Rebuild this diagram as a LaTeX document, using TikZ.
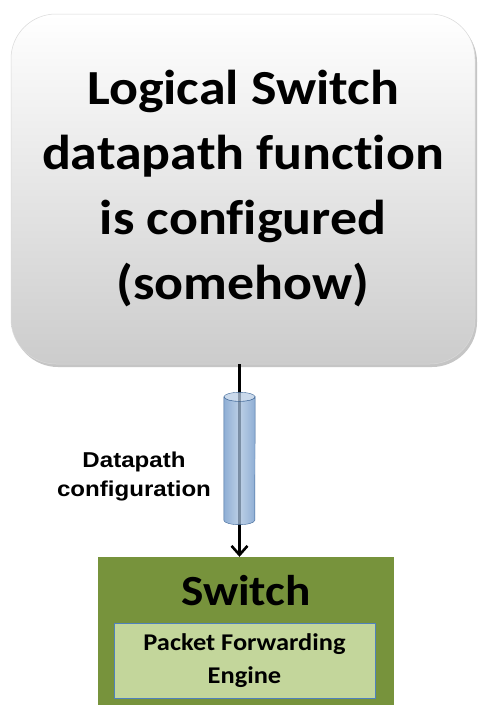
\documentclass[tikz,border=0pt]{standalone}
\usepackage{fontspec}
\setmainfont{Carlito}[FakeStretch=1.1, Ligatures={NoCommon,NoRequired,NoContextual}]
\newfontfamily\arialfont{Liberation Sans}[FakeStretch=1.12]
\usetikzlibrary{shadows,arrows.meta}
\definecolor{swgreen}{HTML}{77933C}
\definecolor{pfegreen}{HTML}{C3D69B}
\definecolor{pfeborder}{HTML}{4F81BD}
\definecolor{cylblue}{HTML}{4F81BD}
\tikzset{
  x=1pt, y=-1pt,
  bigbox/.style={rounded corners=45pt, minimum width=464pt, minimum height=350pt,
    top color=white, bottom color=black!20, draw=black!15, line width=0.5pt,
    drop shadow={shadow xshift=2pt, shadow yshift=-3pt, fill=black!45, opacity=0.5},
    align=center, font=\bfseries\fontsize{49}{65}\selectfont, inner sep=0pt},
  switchbox/.style={fill=swgreen, draw=none, minimum width=296pt, minimum height=160pt,
    inner sep=0pt},
  pfebox/.style={fill=pfegreen, draw=pfeborder, line width=0.8pt, minimum width=261pt,
    minimum height=75pt, align=center, inner sep=0pt,
    font=\bfseries\fontsize{24}{33}\selectfont},
  cylnode/.style={minimum width=31pt, minimum height=123pt, inner sep=0pt},
  cylbody/.style={left color=cylblue!85, right color=cylblue!85, middle color=cylblue!50,
    draw=cylblue!80!black, line width=0.4pt, fill opacity=0.75},
  cyltop/.style={fill=cylblue!40, draw=cylblue!80!black, line width=0.4pt, fill opacity=0.75},
  lbl/.style={font=\arialfont\bfseries\fontsize{21.5}{29}\selectfont, align=center, inner sep=0pt},
  conn/.style={line width=2.6pt, -{Straight Barb[length=9pt, width=16pt]}}
}
\begin{document}
\begin{tikzpicture}
\useasboundingbox (0,0) rectangle (484,705);
\clip (0,0) rectangle (484,705);
\fill[white] (0,0) rectangle (484,705);
\node[bigbox] (top) at (243,189) {Logical Switch\\datapath function\\is configured\\(somehow)};
\node[switchbox] (sw) at (246,637) {};
\node[font=\bfseries\fontsize{43}{50}\selectfont, anchor=base, inner sep=0pt] (swt) at (246,605) {Switch};
\node[pfebox] (pfe) at (244.5,660.5) {Packet Forwarding\\Engine};
\draw[conn] (top.south -| 239.5,0) -- (sw.north -| 239.5,0);
\node[cylnode] (c) at (239.5,458.5) {};
\path[cylbody] (c.north west) -- (c.south west)
  arc[start angle=180, end angle=360, x radius=15.5pt, y radius=4.5pt]
  -- (c.north east) arc[start angle=0, end angle=-180, x radius=15.5pt, y radius=4.5pt] -- cycle;
\path[cyltop] (c.north) ellipse[x radius=15.5pt, y radius=4.5pt];
\node[lbl] (dl) at (134,476) {Datapath\\configuration};
\end{tikzpicture}
\end{document}
